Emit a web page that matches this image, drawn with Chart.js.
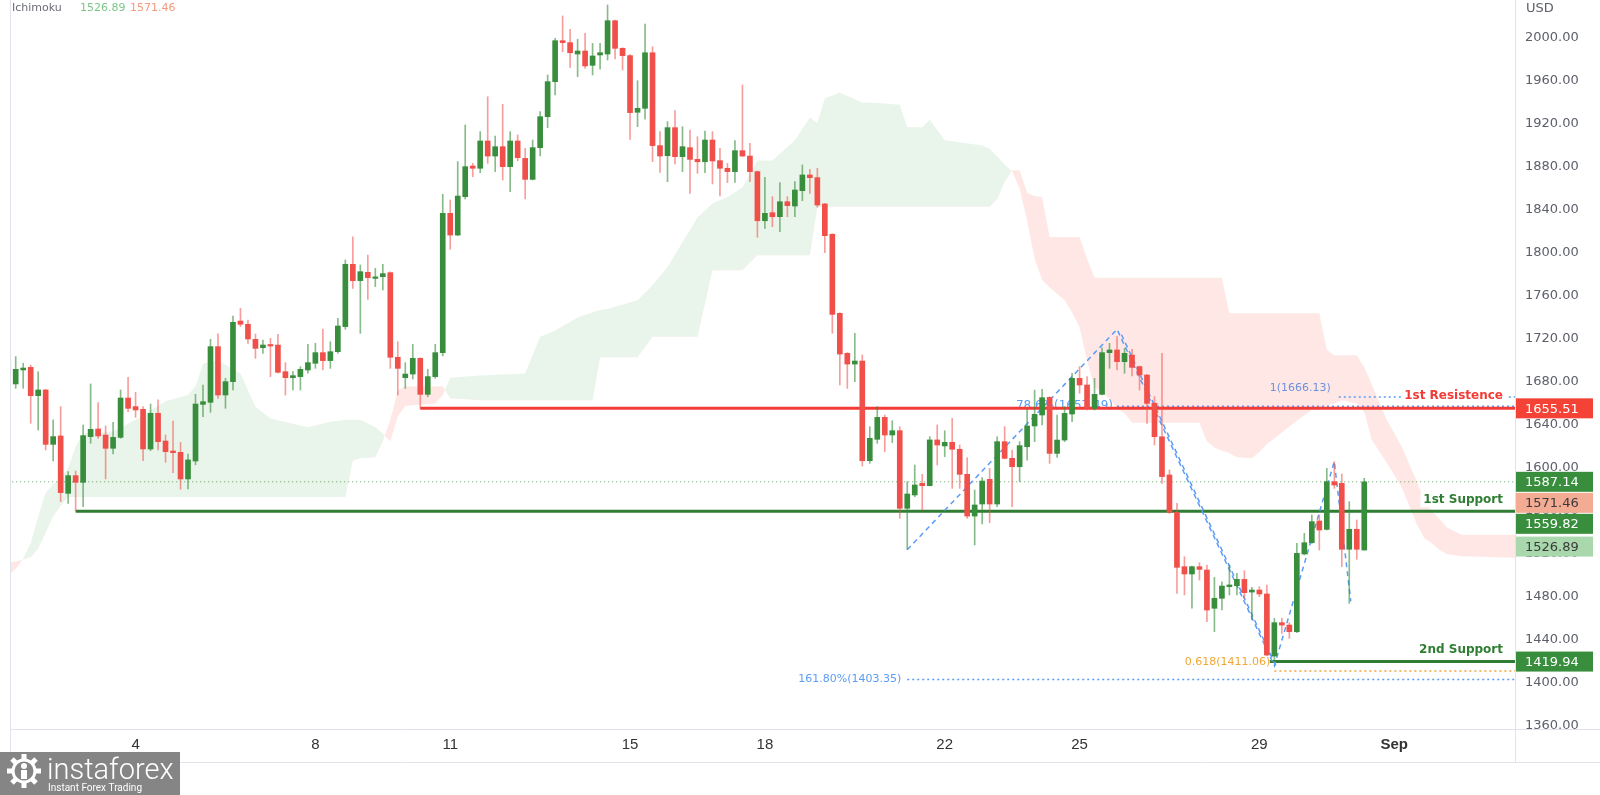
<!DOCTYPE html>
<html>
<head>
<meta charset="utf-8">
<script src="https://cdn.jsdelivr.net/npm/chart.js@4.4.1/dist/chart.umd.min.js"></script>
<style>
  html, body { margin: 0; padding: 0; background: #fff; }
  #wrap { width: 1600px; height: 795px; }
</style>
</head>
<body>
<div id="wrap"><canvas id="c" width="1600" height="795"></canvas></div>
<script>
// 4H candles, index 0 = Aug 1 04:00
const opens = [1705, 1678.2, 1691.2, 1693.6, 1667.3, 1672.6, 1622.0, 1629.8, 1576.4, 1592.9,
  1586.7, 1629.2, 1636.3, 1630.7, 1618.3, 1628.5, 1665.1, 1657.1, 1654.6, 1617.7,
  1650.9, 1625.1, 1615.8, 1614.6, 1589.8, 1606.5, 1659.2, 1661.1, 1712.9, 1667.9,
  1680.3, 1736.7, 1733.7, 1719.7, 1711.9, 1714.4, 1714.4, 1689.6, 1684.0, 1685.0,
  1691.2, 1697.4, 1707.3, 1699.9, 1708.2, 1731.5, 1789.5, 1774.3, 1782.0, 1776.4,
  1778.0, 1781.7, 1703.0, 1684.0, 1687.4, 1702.0, 1668.5, 1685.0, 1707.3, 1836.9,
  1816.7, 1852.4, 1880.9, 1878.8, 1904.2, 1890.2, 1898.9, 1880.3, 1904.2, 1888.0,
  1868.5, 1898.0, 1926.8, 1959.4, 1997.5, 1995.7, 1985.1, 1987.9, 1974.6, 1984.2,
  1985.1, 2016.1, 1990.4, 1983.6, 1930.9, 1934.6, 1986.3, 1899.9, 1890.5, 1916.6,
  1889.6, 1898.0, 1887.1, 1884.9, 1905.1, 1885.9, 1878.8, 1875.7, 1895.2, 1890.2,
  1875.7, 1830.0, 1837.5, 1833.8, 1847.7, 1843.7, 1858.0, 1872.6, 1870.1, 1845.6,
  1817.4, 1743.9, 1706.7, 1696.7, 1699.5, 1606.8, 1626.7, 1647.1, 1630.7, 1634.7,
  1562.5, 1574.9, 1585.7, 1583.6, 1626.1, 1620.5, 1623.9, 1617.4, 1594.1, 1555.3,
  1566.5, 1589.5, 1566.5, 1624.5, 1609.0, 1601.2, 1619.8, 1639.1, 1649.3, 1665.7,
  1613.6, 1626.0, 1650.2, 1683.4, 1677.2, 1655.5, 1668.5, 1707.3, 1709.8, 1698.9,
  1705.1, 1694.3, 1686.5, 1660.2, 1629.1, 1593.5, 1558.7, 1508.2, 1501.4, 1508.2,
  1505.1, 1469.5, 1478.8, 1489.6, 1490.5, 1496.4, 1484.6, 1486.5, 1482.8, 1425.1,
  1456.1, 1453.9, 1447.7, 1520.0, 1530.5, 1550.7, 1542.9, 1587.3, 1585.7, 1524.4,
  1543.0, 1523.7]
const highs = [1717, 1703.6, 1697.4, 1695.8, 1689.6, 1673.2, 1644.7, 1657.1, 1596.6, 1597.2,
  1640.0, 1678.2, 1660.8, 1639.1, 1642.5, 1672.6, 1684.4, 1670.4, 1657.1, 1659.5,
  1663.3, 1630.7, 1643.7, 1623.9, 1613.0, 1668.6, 1677.2, 1719.7, 1724.7, 1683.4,
  1741.4, 1748.5, 1737.7, 1724.7, 1719.1, 1720.6, 1724.3, 1698.0, 1689.6, 1694.3,
  1715.0, 1716.0, 1729.3, 1717.5, 1739.2, 1793.5, 1815.0, 1788.9, 1798.1, 1785.7,
  1789.5, 1782.5, 1717.5, 1698.0, 1715.0, 1702.5, 1691.8, 1715.0, 1854.6, 1849.3,
  1885.0, 1919.1, 1883.4, 1912.9, 1945.4, 1908.8, 1938.3, 1912.9, 1909.8, 1897.4,
  1905.1, 1931.5, 1965.6, 1999.7, 2020.5, 2008.1, 1998.8, 2004.3, 1995.0, 1995.0,
  2030.7, 2016.6, 1991.0, 1984.5, 1960.3, 2013.0, 1991.9, 1912.9, 1922.2, 1932.4,
  1917.5, 1914.4, 1908.2, 1913.5, 1912.9, 1897.4, 1883.4, 1904.5, 1956.3, 1902.0,
  1876.3, 1870.4, 1852.4, 1865.4, 1852.4, 1866.4, 1881.9, 1877.8, 1878.7, 1846.2,
  1818.0, 1744.5, 1707.3, 1725.3, 1705.1, 1638.4, 1657.1, 1649.3, 1644.0, 1638.4,
  1587.3, 1602.8, 1594.1, 1629.2, 1640.0, 1634.7, 1646.2, 1621.4, 1609.6, 1579.5,
  1591.0, 1599.7, 1629.1, 1638.5, 1616.7, 1624.5, 1654.6, 1672.5, 1673.2, 1666.3,
  1649.3, 1657.0, 1688.1, 1694.3, 1685.0, 1683.4, 1711.9, 1716.0, 1722.2, 1711.3,
  1710.4, 1694.9, 1687.0, 1666.4, 1706.7, 1598.1, 1567.1, 1517.5, 1508.8, 1511.9,
  1509.8, 1498.3, 1494.2, 1509.8, 1502.0, 1504.5, 1489.0, 1489.6, 1491.2, 1460.1,
  1460.1, 1456.1, 1529.9, 1539.2, 1556.3, 1556.3, 1599.7, 1605.9, 1594.4, 1568.7,
  1551.6, 1590.4]
const lows = [1679, 1674.1, 1674.1, 1641.6, 1635.4, 1616.8, 1606.5, 1568.7, 1567.1, 1560.0,
  1564.0, 1623.0, 1627.6, 1589.8, 1613.0, 1627.6, 1652.4, 1647.1, 1606.8, 1616.1,
  1616.8, 1605.3, 1595.7, 1580.2, 1580.5, 1603.0, 1647.8, 1651.8, 1664.8, 1655.5,
  1672.6, 1731.5, 1716.0, 1702.0, 1706.7, 1685.0, 1688.1, 1667.9, 1672.6, 1672.6,
  1688.1, 1692.7, 1691.2, 1692.7, 1706.7, 1729.0, 1767.1, 1725.3, 1756.9, 1768.7,
  1765.6, 1692.7, 1667.9, 1674.1, 1682.8, 1655.5, 1666.4, 1683.4, 1704.2, 1803.4,
  1816.1, 1850.2, 1871.0, 1874.7, 1883.4, 1875.7, 1867.9, 1857.0, 1885.6, 1850.2,
  1867.9, 1890.2, 1916.6, 1947.0, 1987.3, 1972.7, 1964.0, 1971.8, 1965.6, 1970.9,
  1979.5, 1980.5, 1970.2, 1905.7, 1917.5, 1924.4, 1885.0, 1875.0, 1866.3, 1882.8,
  1875.7, 1855.5, 1874.1, 1874.7, 1864.2, 1853.0, 1865.4, 1865.7, 1889.6, 1866.3,
  1814.6, 1822.9, 1824.5, 1819.8, 1833.8, 1833.8, 1848.7, 1855.5, 1842.5, 1800.3,
  1725.3, 1677.2, 1674.1, 1680.3, 1601.9, 1604.3, 1622.9, 1615.2, 1623.6, 1553.2,
  1524.5, 1573.3, 1560.9, 1583.3, 1602.8, 1610.5, 1581.1, 1581.1, 1553.2, 1528.4,
  1547.9, 1549.1, 1564.0, 1608.4, 1564.0, 1587.3, 1607.4, 1624.5, 1640.0, 1604.3,
  1609.9, 1624.5, 1643.1, 1669.5, 1654.0, 1654.0, 1667.9, 1692.7, 1691.2, 1688.1,
  1685.6, 1672.5, 1641.5, 1621.4, 1585.7, 1557.8, 1483.4, 1481.9, 1469.5, 1495.8,
  1457.1, 1447.8, 1467.9, 1481.9, 1481.9, 1478.8, 1458.6, 1480.3, 1425.1, 1419.8,
  1446.2, 1441.5, 1446.8, 1519.1, 1529.9, 1523.7, 1542.3, 1581.1, 1508.2, 1474.1,
  1515.0, 1523.7]
const closes = [1690, 1691.8, 1693.0, 1667.3, 1672.6, 1622.0, 1629.2, 1577.1, 1592.9, 1586.7,
  1630.1, 1636.0, 1629.8, 1618.3, 1628.5, 1665.1, 1655.5, 1654.0, 1617.7, 1650.9,
  1624.5, 1615.2, 1614.3, 1589.8, 1607.5, 1659.5, 1661.7, 1712.9, 1667.9, 1680.3,
  1735.5, 1733.7, 1720.0, 1711.3, 1714.4, 1713.5, 1689.0, 1684.0, 1685.9, 1691.8,
  1698.0, 1707.3, 1699.9, 1708.2, 1732.1, 1789.5, 1774.3, 1782.6, 1777.1, 1777.7,
  1780.8, 1703.0, 1692.7, 1687.4, 1702.0, 1668.5, 1685.0, 1707.3, 1836.9, 1816.7,
  1853.0, 1880.3, 1878.8, 1904.2, 1890.2, 1898.9, 1880.3, 1904.2, 1888.7, 1868.5,
  1898.0, 1926.8, 1959.4, 1997.5, 1995.7, 1986.3, 1987.9, 1974.0, 1983.3, 1986.3,
  2016.1, 1990.4, 1983.6, 1930.6, 1934.6, 1986.3, 1899.9, 1890.2, 1916.6, 1889.6,
  1898.9, 1887.1, 1884.9, 1905.1, 1885.6, 1878.8, 1875.7, 1895.2, 1890.2, 1875.7,
  1830.0, 1836.9, 1833.8, 1847.7, 1844.0, 1858.6, 1872.6, 1870.1, 1844.6, 1816.1,
  1742.9, 1706.0, 1696.7, 1699.5, 1606.8, 1627.6, 1647.1, 1630.7, 1634.7, 1562.5,
  1575.8, 1584.2, 1583.6, 1626.1, 1621.4, 1623.9, 1617.4, 1594.1, 1555.3, 1565.6,
  1587.9, 1566.5, 1624.5, 1609.0, 1601.2, 1620.8, 1639.1, 1649.9, 1665.4, 1613.6,
  1626.0, 1650.8, 1683.4, 1677.2, 1655.5, 1668.5, 1707.3, 1709.8, 1698.9, 1706.7,
  1693.6, 1686.5, 1660.1, 1629.1, 1592.0, 1558.7, 1507.6, 1501.4, 1508.2, 1505.7,
  1467.9, 1478.8, 1490.2, 1491.2, 1496.4, 1484.0, 1486.5, 1482.8, 1426.0, 1456.1,
  1453.9, 1447.7, 1520.6, 1530.5, 1550.1, 1542.3, 1587.3, 1584.2, 1524.4, 1543.0,
  1524.4, 1587.14]

// day ticks (candle index of 00:00) and their labels
const dayTicks = [17, 41, 59, 83, 101, 125, 143, 167, 185]
const dayLabels = ['4', '8', '11', '15', '18', '22', '25', '29', 'Sep']
const priceTicks = [1360, 1400, 1440, 1480, 1520, 1560, 1600, 1640, 1680, 1720, 1760, 1800, 1840, 1880, 1920, 1960, 2000]

// ichimoku cloud (leading spans, shifted forward)
const cloudIdx = [0,1,2,3,4,5,6,7,8,9,10,14,17,21,24,25,26,28,29,31,33,35,40,43,45,46,47,49,50,51,
  52,53,57,58,59,63,69,71,73,76,78,79,80,84,86,88,90,92,94,96,98,100,102,105,107,108,109,111,114,117,
  119,120,122,123,125,127,130,131,132,133,134,135,136,137,138,139,140,141,142,143,144,145,146,147,148,149,150,159,160,161,
  162,163,164,166,167,168,170,172,174,175,176,177,178,180,181,182,184,186,188,189,190,191,192,194,203]
const spanA = [1500,1506,1516,1530,1555,1577,1585,1590,1600,1620,1632,1634,1645,1662,1668,1676,1697,1700,1696,1688,
  1657,1646,1638,1643,1645,1645,1645,1638,1632,1625,1648,1658,1660,1668,1684,1686,1688,1722,1728,1740,
  1745,1747,1748,1756,1770,1787,1810,1833,1846,1852,1861,1886,1886,1905,1926,1921,1944,1949,1940,1939,
  1938,1917,1917,1924,1905,1903,1900,1897,1890,1882,1876,1860,1830,1795,1775,1768,1762,1756,1745,1731,
  1700,1675,1670,1665,1655,1651,1642,1642,1625,1619,1616,1614,1610,1609,1615,1622,1633,1644,1654,1656,
  1658,1660,1663,1660,1652,1626,1605,1582,1548,1535,1530,1524,1520,1518,1516]
const spanB = [1512,1513,1515,1517,1525,1540,1555,1565,1573,1573,1573,1573,1573,1573,1573,1573,1573,1573,1573,1573,
  1573,1573,1573,1573,1573,1607,1609,1610,1625,1645,1672,1676,1676,1676,1665,1663,1663,1663,1663,1663,
  1663,1703,1703,1703,1722,1722,1722,1722,1784,1784,1784,1798,1798,1798,1798,1843,1843,1843,1843,1843,
  1843,1843,1843,1843,1843,1843,1843,1843,1850,1866,1877,1877,1856,1853,1852,1815,1815,1815,1815,1815,
  1795,1777,1777,1777,1777,1777,1777,1777,1777,1777,1777,1744,1744,1744,1744,1744,1744,1744,1744,1744,
  1710,1705,1705,1705,1694,1678,1645,1620,1588,1570,1560,1553,1545,1538,1538]
const ichiLast = [1526.89, 1571.46]

// support / resistance levels
const levelNames = ['1st Resistence', '1st Support', '2nd Support']
const levelValues = [1655.51, 1559.82, 1419.94]
const levelStarts = [55, 9, 168.4]
const lastPrice = 1587.14

// fib tool
const fibIdx = [120, 148, 169, 177, 179.2]
const fibPrice = [1524, 1729, 1416, 1606, 1476]
const fib2Idx = [148.6, 169.2]
const fib2Price = [1724, 1416]
const fibTexts = ['78.6%(1657.49)', '1(1666.13)', '161.80%(1403.35)', '0.618(1411.06)']
const fibValues = [1657.49, 1666.13, 1403.35, 1411.06]
const fibStarts = [148, 177.6, 120, 169]

const END = 203
const up = '#388e3c', down = '#f04f4a'
const isUp = i => closes[i] >= opens[i]
const idx = opens.map((_, i) => i)
const blue = '#5b9cf6', orange = '#f2a634', red = '#f23b36', green = '#2e7d32'

const flat = (v, from, color, width, dash) => ({
  type: 'line', data: [{x: from, y: v}, {x: END, y: v}],
  borderColor: color, borderWidth: width, borderDash: dash || [],
  pointRadius: 0, fill: false, order: 5
})

const fibStyle = [
  {color: blue, font: '12px "DejaVu Sans"', dx: -4, dy: 0},
  {color: blue, font: '11px "DejaVu Sans"', dx: -8, dy: -9},
  {color: blue, font: '11px "DejaVu Sans"', dx: -6, dy: 0},
  {color: orange, font: '11px "DejaVu Sans"', dx: -4, dy: -9}
]
const levelColors = [red, green, green]
const levelDy = [-12, -11, -12]

const drawings = {
  id: 'drawings',
  beforeDatasetsDraw(chart) {
    const {ctx, scales: {x, y}} = chart
    ctx.save()
    ctx.textAlign = 'right'
    ctx.textBaseline = 'middle'
    fibTexts.forEach((t, k) => {
      const s = fibStyle[k]
      ctx.font = s.font
      ctx.fillStyle = s.color
      ctx.fillText(t, x.getPixelForValue(fibStarts[k]) + s.dx, y.getPixelForValue(fibValues[k]) + s.dy)
    })
    // legend
    ctx.textAlign = 'left'
    ctx.font = '11px "DejaVu Sans"'
    ctx.fillStyle = '#6a6d78'
    ctx.fillText('Ichimoku', 12, 8)
    ctx.fillStyle = '#7cc488'
    ctx.fillText(ichiLast[0].toFixed(2), 80, 8)
    ctx.fillStyle = '#f39a7e'
    ctx.fillText(ichiLast[1].toFixed(2), 130, 8)
    ctx.restore()
  },
  afterDatasetsDraw(chart) {
    const {ctx, chartArea, scales: {y}} = chart
    ctx.save()
    ctx.font = 'bold 12px "DejaVu Sans"'
    ctx.textAlign = 'right'
    ctx.textBaseline = 'middle'
    levelNames.forEach((t, k) => {
      const ty = y.getPixelForValue(levelValues[k]) + levelDy[k]
      const w = ctx.measureText(t).width
      const rx = chartArea.right - 12
      ctx.fillStyle = '#fff'
      ctx.fillRect(rx - w - 3, ty - 7, w + 6, 14)
      ctx.fillStyle = levelColors[k]
      ctx.fillText(t, rx, ty)
    })
    ctx.restore()
  },
  afterDraw(chart) {
    const {ctx, chartArea: a, scales: {y}} = chart
    ctx.save()
    // clip price labels below the plot
    ctx.fillStyle = '#fff'
    ctx.fillRect(a.right + 1, a.bottom, 1600 - a.right, 30)
    // frame
    ctx.strokeStyle = '#e0e3eb'
    ctx.lineWidth = 1
    const seg = (x1, y1, x2, y2) => { ctx.beginPath(); ctx.moveTo(x1, y1); ctx.lineTo(x2, y2); ctx.stroke() }
    seg(a.left + 0.5, 0, a.left + 0.5, a.bottom + 33)
    seg(a.right + 0.5, 0, a.right + 0.5, a.bottom + 33)
    seg(a.left, a.bottom + 0.5, 1600, a.bottom + 0.5)
    seg(a.left, a.bottom + 33.5, 1600, a.bottom + 33.5)
    // axis unit
    ctx.font = '13px "DejaVu Sans"'
    ctx.fillStyle = '#5d606b'
    ctx.textBaseline = 'middle'
    ctx.fillText('USD', a.right + 11, 9)
    // price boxes
    const boxes = [
      {v: levelValues[0], bg: '#f44336', fg: '#fff'},
      {v: lastPrice, bg: '#388e3c', fg: '#fff'},
      {v: ichiLast[1], bg: '#f3ab94', fg: '#3a3a3a'},
      {v: levelValues[1], bg: '#388e3c', fg: '#fff'},
      {v: ichiLast[0], bg: '#a9d8ad', fg: '#3a3a3a'},
      {v: levelValues[2], bg: '#388e3c', fg: '#fff'}
    ]
    let prev = -100
    boxes.forEach(b => {
      let cy = y.getPixelForValue(b.v)
      if (cy - prev < 21) cy = prev + 21
      prev = cy
      ctx.fillStyle = b.bg
      ctx.fillRect(a.right + 1, cy - 10, 77, 20)
      ctx.fillStyle = b.fg
      ctx.fillText(b.v.toFixed(2), a.right + 10, cy + 1)
    })
    // watermark logo
    ctx.fillStyle = 'rgba(120,120,120,0.9)'
    ctx.fillRect(0, 752, 180, 43)
    ctx.fillStyle = '#fff'
    ctx.strokeStyle = '#fff'
    ctx.lineWidth = 3
    ctx.beginPath(); ctx.arc(24, 771, 11, 0, Math.PI * 2); ctx.stroke()
    for (let k = 0; k < 8; k++) {
      const ang = k * Math.PI / 4
      ctx.save(); ctx.translate(24, 771); ctx.rotate(ang); ctx.fillRect(-2.5, -17, 5, 6); ctx.restore()
    }
    ctx.beginPath(); ctx.arc(24, 766, 3, 0, Math.PI * 2); ctx.fill()
    ctx.fillRect(21, 770, 6, 9)
    ctx.font = '300 29px Roboto'
    ctx.textBaseline = 'alphabetic'
    ctx.fillText('instaforex', 47, 779)
    ctx.font = '10px Roboto'
    ctx.fillText('Instant Forex Trading', 48, 791)
    ctx.restore()
  }
}

new Chart(document.getElementById('c'), {
  type: 'bar',
  data: {
    datasets: [
      {type: 'line', data: cloudIdx.map((v, k) => ({x: v, y: spanA[k]})), borderColor: 'transparent', borderWidth: 0,
        pointRadius: 0, fill: {target: '+1', above: 'rgba(76,175,80,0.12)', below: 'rgba(244,67,54,0.13)'}, order: 10},
      {type: 'line', data: cloudIdx.map((v, k) => ({x: v, y: spanB[k]})), borderColor: 'transparent', borderWidth: 0,
        pointRadius: 0, fill: false, order: 10},
      flat(lastPrice, 0, 'rgba(56,142,60,0.8)', 1, [1, 3]),
      flat(levelValues[0], levelStarts[0], red, 3),
      flat(levelValues[1], levelStarts[1], green, 3),
      flat(levelValues[2], levelStarts[2], green, 3),
      flat(fibValues[0], fibStarts[0], blue, 1.5, [2, 3]),
      flat(fibValues[1], fibStarts[1], blue, 1.5, [2, 3]),
      flat(fibValues[2], fibStarts[2], blue, 1.5, [2, 3]),
      flat(fibValues[3], fibStarts[3], orange, 1.5, [2, 3]),
      {type: 'line', data: fibIdx.map((v, k) => ({x: v, y: fibPrice[k]})), borderColor: blue, borderWidth: 1.5,
        borderDash: [5, 4], pointRadius: 0, fill: false, order: 4},
      {type: 'line', data: fib2Idx.map((v, k) => ({x: v, y: fib2Price[k]})), borderColor: blue, borderWidth: 1.5,
        borderDash: [5, 4], pointRadius: 0, fill: false, order: 4},
      {type: 'bar', data: idx.map(i => ({x: i, y: [lows[i], highs[i]]})),
        backgroundColor: idx.map(i => isUp(i) ? 'rgba(56,142,60,0.6)' : 'rgba(240,79,74,0.55)'),
        barThickness: 1, grouped: false, minBarLength: 1, order: 2},
      {type: 'bar', data: idx.map(i => ({x: i, y: [opens[i], closes[i]]})),
        backgroundColor: idx.map(i => isUp(i) ? up : down),
        barThickness: 5, grouped: false, minBarLength: 1.5, order: 1}
    ]
  },
  options: {
    responsive: false,
    devicePixelRatio: 1,
    animation: false,
    events: [],
    layout: {padding: {left: 10, top: 0, right: 0, bottom: 0}},
    plugins: {legend: {display: false}, tooltip: {enabled: false}},
    scales: {
      x: {
        type: 'linear', min: 0.239, max: 201.12, offset: false,
        grid: {display: false, drawTicks: false}, border: {display: false},
        afterBuildTicks: s => { s.ticks = dayTicks.map(v => ({value: v})) },
        afterFit: s => { s.height = 66; s.paddingLeft = 0; s.paddingRight = 0 },
        ticks: {
          autoSkip: false, maxRotation: 0, padding: 7, color: '#333',
          callback: v => { const k = dayTicks.indexOf(v); return k < 0 ? '' : dayLabels[k] },
          font: c => ({family: '"Liberation Sans Narrow", "Liberation Sans", sans-serif', size: 15,
            weight: c.tick && c.tick.value === 185 ? 'bold' : 'normal'})
        }
      },
      y: {
        position: 'right', min: 1357.21, max: 2035.35,
        grid: {display: false, drawTicks: false}, border: {display: false},
        afterBuildTicks: s => { s.ticks = priceTicks.map(v => ({value: v})) },
        afterFit: s => { s.width = 85; s.paddingTop = 0; s.paddingBottom = 0 },
        ticks: {padding: 10, color: '#5d606b', font: {family: '"DejaVu Sans"', size: 13},
          callback: v => Number(v).toFixed(2)}
      }
    }
  },
  plugins: [drawings]
})
</script>
</body>
</html>
